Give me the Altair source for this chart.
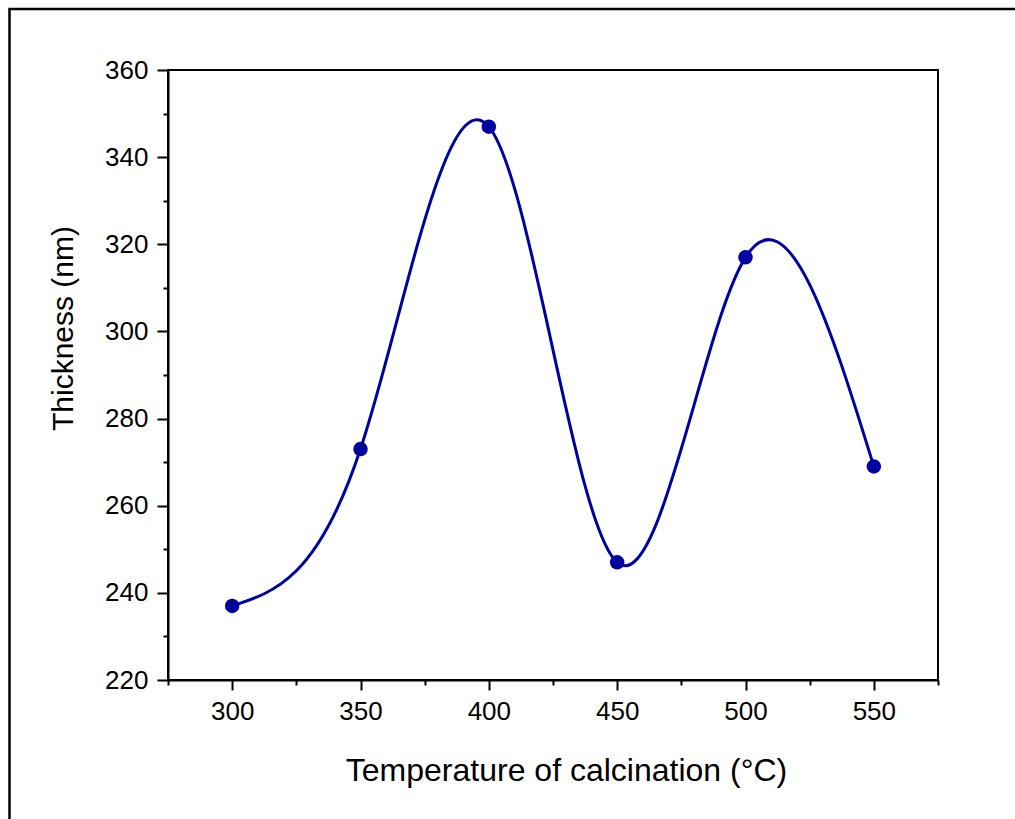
import altair as alt
import pandas as pd

# Data
temperature = [300, 350, 400, 450, 500, 550]
thickness = [237, 273, 347, 247, 317, 269]

x_major = [300, 350, 400, 450, 500, 550]
x_minor = [275, 325, 375, 425, 475, 525, 575]
y_major = [220, 240, 260, 280, 300, 320, 340, 360]
y_minor = [230, 250, 270, 290, 310, 330, 350]

df = pd.DataFrame({"T": temperature, "Th": thickness})

FONT = "Liberation Sans"
BLUE = "#0000A0"

xscale = alt.Scale(domain=[275, 575], nice=False, zero=False)
yscale = alt.Scale(domain=[220, 360], nice=False, zero=False)

x_axis = alt.Axis(
    values=x_major, format="d", grid=False, orient="bottom",
    tickSize=10, tickWidth=2, tickColor="black",
    domainColor="black", domainWidth=2,
    labelFont=FONT, labelFontSize=26, labelColor="black", labelPadding=8,
    labelFlush=False,
    title="Temperature of calcination (°C)", titleFont=FONT, titleFontSize=32,
    titleFontWeight="normal", titleColor="black",
    titleX=398, titleY=100, titleAlign="center", titleBaseline="alphabetic",
)
y_axis = alt.Axis(
    values=y_major, format="d", grid=False, orient="left",
    tickSize=11, tickWidth=2, tickColor="black",
    domainColor="black", domainWidth=2,
    labelFont=FONT, labelFontSize=26, labelColor="black", labelPadding=9,
    labelFlush=False,
    title="Thickness (nm)", titleFont=FONT, titleFontSize=30,
    titleFontWeight="normal", titleColor="black",
    titleX=-96, titleY=258, titleAngle=270, titleAlign="center",
    titleBaseline="alphabetic",
)
x_minor_axis = alt.Axis(
    values=x_minor, labels=False, domain=False, grid=False, orient="bottom",
    tickSize=5, tickWidth=2, tickColor="black", title="",
)
y_minor_axis = alt.Axis(
    values=y_minor, labels=False, domain=False, grid=False, orient="left",
    tickSize=5, tickWidth=2, tickColor="black", title="",
)

base = alt.Chart(df)

line = base.mark_line(interpolate="natural", color=BLUE, strokeWidth=3).encode(
    x=alt.X("T:Q", scale=xscale, axis=x_axis),
    y=alt.Y("Th:Q", scale=yscale, axis=y_axis),
)

points = base.mark_circle(size=210, color=BLUE, opacity=1).encode(
    x=alt.X("T:Q", scale=xscale, axis=None),
    y=alt.Y("Th:Q", scale=yscale, axis=None),
)

minor = base.mark_point(opacity=0).encode(
    x=alt.X("T:Q", scale=xscale, axis=x_minor_axis),
    y=alt.Y("Th:Q", scale=yscale, axis=y_minor_axis),
)

frame = alt.Chart(alt.Data(values=[{}])).mark_rect(
    fillOpacity=0, stroke="black", strokeWidth=2.5, clip=False
).encode(
    x=alt.value(9.5 - 168), x2=alt.value(1030 - 168),
    y=alt.value(9 - 70), y2=alt.value(830 - 70),
)

chart = (
    alt.layer(minor, line, points, frame)
    .resolve_axis(x="independent", y="independent")
    .properties(
        width=770, height=610,
        autosize=alt.AutoSizeParams(type="none"),
        padding={"left": 168, "top": 70, "right": 77, "bottom": 139},
        background="white",
    )
    .configure_view(stroke="black", strokeWidth=2)
)

chart.save("out.html", embed_options={"renderer": "svg", "actions": False})
